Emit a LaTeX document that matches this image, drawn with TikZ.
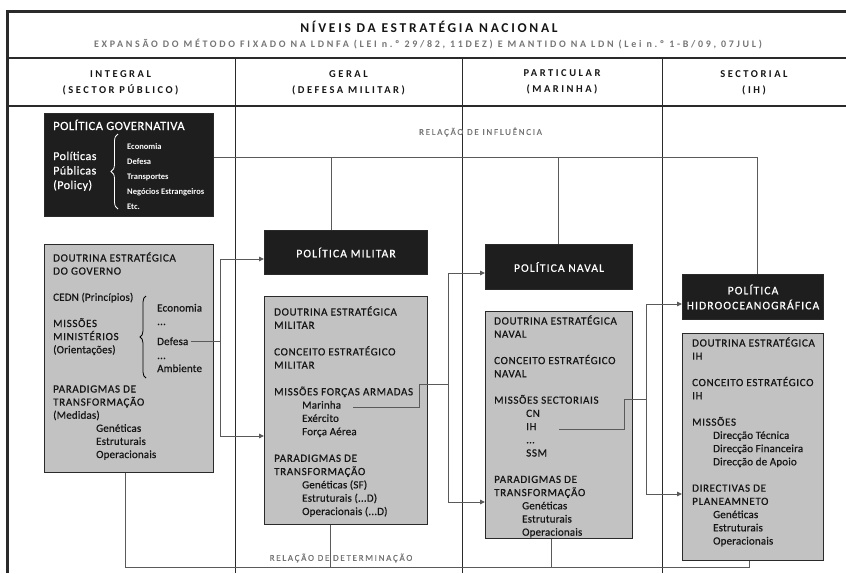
\documentclass[tikz,border=0pt]{standalone}
\usepackage{fontspec}
\setmainfont{Carlito}
\newfontfamily\fCap[LetterSpace=6,FakeBold=0.6]{Carlito}
\newfontfamily\fLow[LetterSpace=1.5,FakeBold=0.6]{Carlito}
\newfontfamily\fTitle[LetterSpace=20]{Carlito}
\newfontfamily\fHdr[LetterSpace=24]{Carlito}
\newfontfamily\fSub[LetterSpace=27]{Carlito}
\newfontfamily\fLab[LetterSpace=19,FakeBold=0.4]{Carlito}
\newfontfamily\fBlk[LetterSpace=10,FakeBold=0.6]{Carlito}
\newfontfamily\fGov[LetterSpace=4,FakeBold=0.6]{Carlito}
\usetikzlibrary{arrows.meta,decorations.pathreplacing}
\definecolor{boxgray}{HTML}{C2C2C2}
\definecolor{boxblack}{HTML}{1E1E1E}
\definecolor{linegray}{HTML}{5A5A5A}
\definecolor{labgray}{HTML}{757575}
\definecolor{txtdark}{HTML}{151515}
\definecolor{framec}{HTML}{2A2A2A}
\newcommand\CP[1]{{\fCap #1}}
\newcommand\ind[1][28pt]{\hspace*{#1}}
\newcommand\boxlines[1]{\begin{tabular}[t]{@{}l@{}}#1\end{tabular}}
\begin{document}
\begin{tikzpicture}[x=1pt,y=-1pt,
  graybox/.style={draw=framec, line width=1pt, fill=boxgray, inner sep=0, anchor=north west},
  blackbox/.style={draw=framec, line width=1pt, fill=boxblack, inner sep=0, anchor=north west,
    text=white, align=center, font={\fBlk\fontsize{11.5}{15}\selectfont}},
  btxt/.style={anchor=base west, inner sep=0, text=txtdark, font={\fLow\fontsize{11}{13.2}\selectfont}},
  wtxt/.style={anchor=base west, inner sep=0, text=white},
  hdr/.style={inner sep=0, align=center, text=txtdark, font={\fHdr\bfseries\fontsize{10.5}{16.5}\selectfont}},
  lab/.style={inner sep=0, text=labgray, font={\fLab\fontsize{9}{11}\selectfont}},
  conn/.style={draw=linegray, line width=0.9pt},
  arr/.style={conn, -{Triangle[length=5pt,width=4.5pt]}, color=linegray},
  frame/.style={draw=framec}
]
\useasboundingbox (0,0) rectangle (846,573);

% ---------- frame ----------
\draw[frame, line width=2pt] (6,106) -- (846,106);
\draw[frame, line width=2pt] (6,57.5) -- (846,57.5);
\draw[frame, line width=1pt] (235,57) -- (235,573);
\draw[frame, line width=1pt] (462.5,57) -- (462.5,573);
\draw[frame, line width=1pt] (662,57) -- (662,573);
\draw[frame, line width=3.5pt] (7.5,573) -- (7.5,11.5) -- (846,11.5);

% ---------- titles ----------
\node[inner sep=0, text=txtdark, font={\fTitle\bfseries\fontsize{13.5}{16}\selectfont}] (title) at (429,27) {NÍVEIS DA ESTRATÉGIA NACIONAL};
\node[inner sep=0, text=labgray, font={\fSub\bfseries\fontsize{10}{12}\selectfont}] (subtitle) at (428,44) {EXPANSÃO DO MÉTODO FIXADO NA LDNFA (LEI n.º 29/82, 11DEZ) E MANTIDO NA LDN (Lei n.º 1-B/09, 07JUL)};

\node[hdr] (h1) at (120.5,83) {INTEGRAL\\(SECTOR PÚBLICO)};
\node[hdr] (h2) at (348.5,83) {GERAL\\(DEFESA MILITAR)};
\node[hdr] (h3) at (562,82) {PARTICULAR\\(MARINHA)};
\node[hdr] (h4) at (754,83) {SECTORIAL\\(IH)};

% ---------- boxes ----------
\node[blackbox, minimum width=169, minimum height=103] (govbox) at (44,113) {};
\node[graybox, minimum width=169, minimum height=228] (govgray) at (44,244) {};
\node[blackbox, minimum width=163, minimum height=44] (milpol) at (264,230) {POLÍTICA MILITAR};
\node[graybox, minimum width=163, minimum height=228] (milgray) at (264,296) {};
\node[blackbox, minimum width=147, minimum height=45] (navpol) at (485,244) {POLÍTICA NAVAL};
\node[graybox, minimum width=147, minimum height=227] (navgray) at (485,311) {};
\node[blackbox, minimum width=141, minimum height=45] (hidpol) at (682,274) {POLÍTICA\\HIDROOCEANOGRÁFICA};
\node[graybox, minimum width=141, minimum height=227] (hidgray) at (682,333) {};

% ---------- Política governativa ----------
\node[wtxt, font={\fGov\fontsize{12.5}{15}\selectfont}] (govtitle) at (53,130) {POLÍTICA GOVERNATIVA};
\node[wtxt, font={\fGov\fontsize{12}{14.5}\selectfont}] (pp) at (53,160) {\boxlines{Políticas\\Públicas\\(Policy)}};
\draw[white, line width=0.8pt, decorate, decoration={brace, amplitude=7pt}] (118,209) -- (118,134);
\node[wtxt, font={\bfseries\fontsize{8.5}{15.1}\selectfont}] (ppitems) at (127,149) {\boxlines{Economia\\Defesa\\Transportes\\Negócios Estrangeiros\\Etc.}};

% ---------- Doutrina do governo ----------
\node[btxt, font={\fLow\fontsize{11}{13.1}\selectfont}] (govtxt) at (53,261.5) {\boxlines{%
\CP{DOUTRINA ESTRATÉGICA}\\
\CP{DO GOVERNO}\\
\\
CEDN (Princípios)\\
\\
\CP{MISSÕES}\\
\CP{MINISTÉRIOS}\\
(Orientações)\\
\\
\\
\CP{PARADIGMAS DE}\\
\CP{TRANSFORMAÇÃO}\\
(Medidas)\\
\ind[43pt]Genéticas\\
\ind[43pt]Estruturais\\
\ind[43pt]Operacionais}};
\draw[black, line width=0.8pt, decorate, decoration={brace, amplitude=6pt}] (146,378) -- (146,296);
\node[btxt] (eco) at (157,311.5) {Economia};
\node[btxt] (dots1) at (157,325) {...};
\node[btxt] (defesa) at (157,345) {Defesa};
\node[btxt] (dots2) at (157,359) {...};
\node[btxt] (amb) at (157,372) {Ambiente};

% ---------- Militar ----------
\node[btxt, font={\fLow\fontsize{11}{13.3}\selectfont}] (miltxt) at (274,315.5) {\boxlines{%
\CP{DOUTRINA ESTRATÉGICA}\\
\CP{MILITAR}\\
\\
\CP{CONCEITO ESTRATÉGICO}\\
\CP{MILITAR}\\
\\
\CP{MISSÕES FORÇAS ARMADAS}\\
\ind Marinha\\
\ind Exército\\
\ind Força Aérea\\
\\
\CP{PARADIGMAS DE}\\
\CP{TRANSFORMAÇÃO}\\
\ind Genéticas (SF)\\
\ind Estruturais (...D)\\
\ind Operacionais (...D)}};

% ---------- Naval ----------
\node[btxt, font={\fLow\fontsize{11}{13.2}\selectfont}] (navtxt) at (494,324.5) {\boxlines{%
\CP{DOUTRINA ESTRATÉGICA}\\
\CP{NAVAL}\\
\\
\CP{CONCEITO ESTRATÉGICO}\\
\CP{NAVAL}\\
\\
\CP{MISSÕES SECTORIAIS}\\
\ind[32pt]\CP{CN}\\
\ind[32pt]\CP{IH}\\
\ind[32pt]...\\
\ind[32pt]\CP{SSM}\\
\\
\CP{PARADIGMAS DE}\\
\CP{TRANSFORMAÇÃO}\\
\ind Genéticas\\
\ind Estruturais\\
\ind Operacionais}};

% ---------- Hidro ----------
\node[btxt, font={\fLow\fontsize{11}{13.2}\selectfont}] (hidtxt) at (692,346.5) {\boxlines{%
\CP{DOUTRINA ESTRATÉGICA}\\
\CP{IH}\\
\\
\CP{CONCEITO ESTRATÉGICO}\\
\CP{IH}\\
\\
\CP{MISSÕES}\\
\ind[21pt]Direcção Técnica\\
\ind[21pt]Direcção Financeira\\
\ind[21pt]Direcção de Apoio\\
\\
\CP{DIRECTIVAS DE}\\
\CP{PLANEAMNETO}\\
\ind[21pt]Genéticas\\
\ind[21pt]Estruturais\\
\ind[21pt]Operacionais}};

% ---------- relation labels ----------
\node[lab] (infl) at (480.5,132) {RELAÇÃO DE INFLUÊNCIA};
\node[lab] (det) at (341,558) {RELAÇÃO DE DETERMINAÇÃO};

% ---------- influence connectors ----------
\coordinate (iy) at (0,157);
\coordinate (dM) at (331,157);
\coordinate (dN) at (558,157);
\coordinate (dH) at (757,157);
\draw[conn] (govbox.east |- iy) -- (dH) -- (dH |- hidpol.north);
\draw[conn] (dM) -- (dM |- milpol.north);
\draw[conn] (dN) -- (dN |- navpol.north);

% ---------- determination connectors ----------
\coordinate (bL) at (125,567);
\coordinate (bM) at (330,567);
\coordinate (bN) at (551,567);
\coordinate (bR) at (749,567);
\draw[conn] (bL |- govgray.south) -- (bL) -- (bR) -- (bR |- hidgray.south);
\draw[conn] (bM |- milgray.south) -- (bM);
\draw[conn] (bN |- navgray.south) -- (bN);

% ---------- governo -> militar ----------
\coordinate (vA) at (220,259);
\coordinate (vB) at (220,436);
\draw[conn] ([xshift=3pt]defesa.east) -- (defesa.east -| vA);
\draw[conn] (vA) -- (vB);
\draw[arr] (vA) -- (vA -| milpol.west);
\draw[arr] (vB) -- (vB -| milgray.west);

% ---------- militar -> naval ----------
\coordinate (mS) at (353,407);
\coordinate (mB) at (448,384);
\coordinate (vC) at (448,273);
\coordinate (vD) at (448,502);
\draw[conn] (mS) -- ++(66,0) |- (mB);
\draw[conn] (vC) -- (vD);
\draw[arr] (vC) -- (vC -| navpol.west);
\draw[arr] (vD) -- (vD -| navgray.west);

% ---------- naval -> hidro ----------
\coordinate (nS) at (559,429);
\coordinate (nB) at (646,399);
\coordinate (vE) at (646,304);
\coordinate (vF) at (646,494);
\draw[conn] (nS) -- ++(65,0) |- (nB);
\draw[conn] (vE) -- (vF);
\draw[arr] (vE) -- (vE -| hidpol.west);
\draw[arr] (vF) -- (vF -| hidgray.west);
\end{tikzpicture}
\end{document}
